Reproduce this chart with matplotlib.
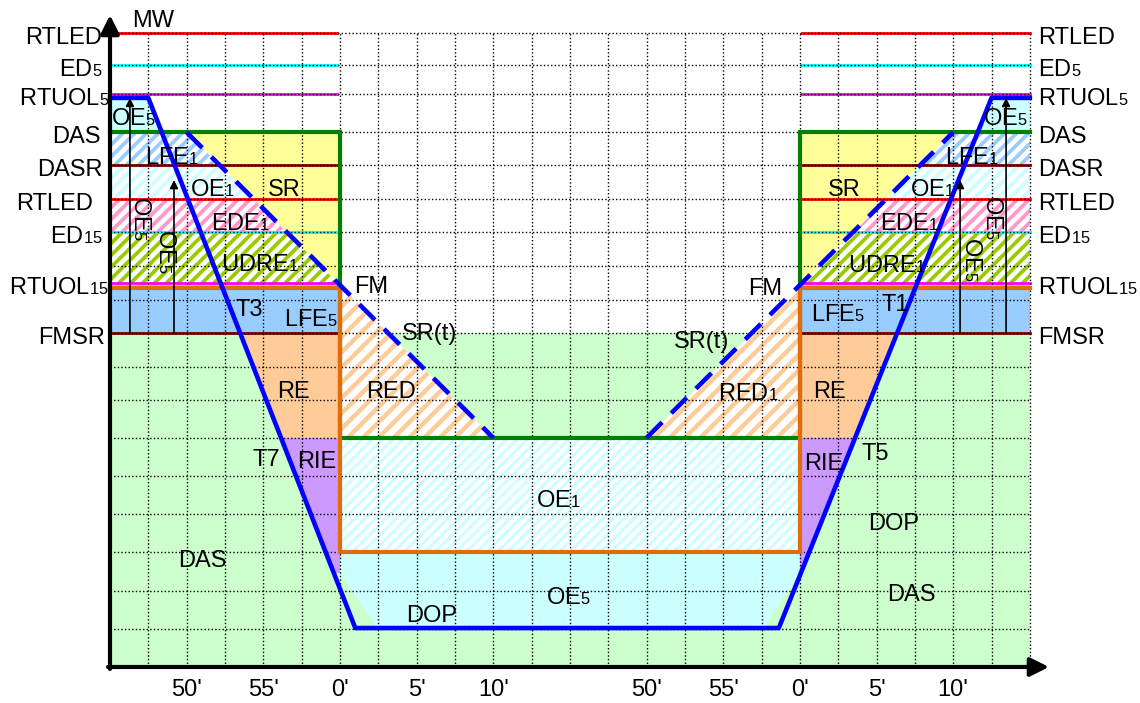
import numpy as np
import matplotlib.pyplot as plt
from matplotlib.collections import LineCollection

plt.rcParams['font.family'] = ['Liberation Sans', 'DejaVu Sans']
plt.rcParams['mathtext.fontset'] = 'custom'
plt.rcParams['mathtext.rm'] = 'Liberation Sans'
plt.rcParams['mathtext.it'] = 'Liberation Sans'
plt.rcParams['mathtext.bf'] = 'Liberation Sans:bold'
try:  # индексы почти на базовой линии, как в оригинале
    import matplotlib._mathtext as _mt
    _mt.FontConstantsBase.sub1 = 0.0
    _mt.FontConstantsBase.subdrop = 0.0
except Exception:
    pass

# уровни мощности (условные единицы, MW)
level_names = ['RTLED', 'ED$_5$', 'RTUOL$_5$', 'DAS', 'DASR',
               'RTLED', 'ED$_{15}$', 'RTUOL$_{15}$', 'FMSR']
level_y = [16.6, 15.75, 15.0, 14.0, 13.15, 12.25, 11.4, 10.05, 8.75]
level_colors = ['#ff0000', '#00ffff', '#ff00ff', None, '#800000',
                '#ff0000', '#00ffff', '#ff00ff', '#800000']
left_label_x = [-0.2, -0.2, -0.02, -0.25, -0.18, -0.44, -0.2, -0.03, -0.13]

# время (ось X): две получасовые развертки
ticks_x = [2, 4, 6, 8, 10, 14, 16, 18, 20, 22]
ticks_lab = ["50'", "55'", "0'", "5'", "10'"] * 2

# график нагрузки (синяя линия)
plan_x = [0, 1, 6.4, 17.45, 23.0, 24]
plan_y = [14.9, 14.9, 1.02, 1.02, 14.9, 14.9]
# SR(t) - пунктир
srl_x, srl_y = [2, 10], [14, 6]
srr_x, srr_y = [14, 22], [6, 14]
# зеленая (DAS) и оранжевая (FM) ломаные
das_x = [0, 6, 6, 18, 18, 24]
das_y = [14, 14, 6, 6, 14, 14]
fm_x = [0, 6, 6, 18, 18, 24]
fm_y = [9.92, 9.92, 3, 3, 9.92, 9.92]
oe5_low = 2.46     # низ RIE / край OE5
oe5_x = [6.97, 17.04]

# полосы штриховки слева/справа от SR(t)
bands = [(13.15, 14.0, '#99ccff'), (12.25, 13.15, '#ccffff'),
         (11.4, 12.25, '#ff99cc'), (10.0, 11.4, '#99cc00')]

# стрелки OE5
arrows_x = [0.52, 1.67, 22.18, 23.38]
arrows_top = [14.9, 12.75, 12.75, 14.9]

grid_y = [1, 2, 3, 4, 5, 6, 7, 7.85, 8.75, 9.6, 10.5, 11.4, 12.25,
          13.15, 14, 15, 15.75, 16.6]

labels = [('OE$_5$', 0.60, 14.18), ('OE$_5$', 23.35, 14.18),
          ('LFE$_1$', 1.62, 13.18), ('LFE$_1$', 22.49, 13.18),
          ('OE$_1$', 2.66, 12.32), ('OE$_1$', 21.45, 12.32),
          ('SR', 4.54, 12.32), ('SR', 19.15, 12.32),
          ('EDE$_1$', 3.42, 11.43), ('EDE$_1$', 20.87, 11.43),
          ('UDRE$_1$', 3.91, 10.36), ('UDRE$_1$', 20.27, 10.33),
          ('T3', 3.63, 9.18), ('T1', 20.48, 9.31),
          ('LFE$_5$', 5.24, 8.92), ('LFE$_5$', 18.99, 9.05),
          ('FM', 6.81, 9.78), ('FM', 17.09, 9.73),
          ('SR(t)', 8.35, 8.55), ('SR(t)', 15.44, 8.34),
          ('RED', 7.33, 7.03), ('RED$_1$', 16.65, 6.98),
          ('RE', 4.80, 7.03), ('RE', 18.76, 7.03),
          ('T7', 4.07, 5.25), ('RIE', 5.40, 5.20), ('RIE', 18.63, 5.17),
          ('T5', 19.96, 5.41), ('OE$_1$', 11.71, 4.20),
          ('DAS', 2.40, 2.63), ('DAS', 20.92, 1.74),
          ('DOP', 8.40, 1.19), ('DOP', 20.45, 3.58), ('OE$_5$', 11.95, 1.66)]
rot_labels = [(0.78, 11.75), (1.43, 10.89), (23.01, 11.78), (22.46, 10.68)]


def xl(y):  # левая ветвь синей линии
    return np.interp(y, [plan_y[2], plan_y[1]], [plan_x[2], plan_x[1]])


def xr(y):  # правая ветвь
    return np.interp(y, [plan_y[3], plan_y[4]], [plan_x[3], plan_x[4]])


def x_srl(y):
    return np.interp(y, srl_y[::-1], srl_x[::-1])


def x_srr(y):
    return np.interp(y, srr_y, srr_x)


fig = plt.figure(figsize=(11.4, 7.03), dpi=100)
ax = fig.add_axes([110 / 1140, 36 / 703, 939 / 1140, 652 / 703])
ax.set_xlim(0, 24.5)
ax.set_ylim(0, 17.07)
for s in ax.spines.values():
    s.set_visible(False)


def fill(xs, ys, color):
    ax.fill(xs, ys, color=color, lw=0, zorder=1)


def stripes(xs, ys, color, step, lw):
    p = ax.fill(xs, ys, facecolor='white', lw=0, zorder=1.2)[0]
    x0, x1 = min(xs) - 1, max(xs) + 1
    cs = np.arange(min(ys) - x1 - step, max(ys) - x0 + step, step)
    segs = [[(x0, x0 + c), (x1, x1 + c)] for c in cs]
    lc = LineCollection(segs, colors=color, linewidths=lw, zorder=1.3)
    ax.add_collection(lc)
    lc.set_clip_path(p)


FMSR, RTUOL = level_y[8], 10.0
mid = das_y[2]
low = fm_y[2]
bot = plan_y[2]
fm_pt = x_srl(6) * 0 + RTUOL  # точка FM на уровне RTUOL15

# фон
fill([0, 24, 24, 0], [0, 0, FMSR, FMSR], '#ccffcc')
# LFE5
fill([0, 6, 6, 0], [FMSR, FMSR, RTUOL, RTUOL], '#99ccff')
fill([18, 24, 24, 18], [FMSR, FMSR, RTUOL, RTUOL], '#99ccff')
# RE
fill([xl(FMSR), 6, 6, xl(mid)], [FMSR, FMSR, mid, mid], '#ffcc99')
fill([18, xr(FMSR), xr(mid), 18], [FMSR, FMSR, mid, mid], '#ffcc99')
# RIE
fill([xl(mid), 6, 6, xl(oe5_low)], [mid, mid, oe5_low, oe5_low], '#cc99ff')
fill([18, xr(mid), xr(oe5_low), 18], [mid, mid, oe5_low, oe5_low], '#cc99ff')
# OE5 сверху
fill([0, plan_x[1], xl(14), 0], [plan_y[1], plan_y[1], 14, 14], '#ccffff')
fill([xr(14), plan_x[4], 24, 24], [14, plan_y[4], plan_y[4], 14], '#ccffff')
# SR (желтый)
fill([srl_x[0], 6, 6], [14, 14, fm_pt], '#ffff99')
fill([18, 18, srr_x[1]], [fm_pt, 14, 14], '#ffff99')
# OE5 внизу
fill([6, 18, 18, oe5_x[1], oe5_x[0], 6], [low, low, oe5_low, bot, bot, oe5_low], '#ccffff')

# штриховка
for ylo, yhi, c in bands:
    stripes([0, min(6, x_srl(ylo)), min(6, x_srl(yhi)), 0], [ylo, ylo, yhi, yhi], c, 0.31, 2.7)
    stripes([max(18, x_srr(ylo)), 24, 24, max(18, x_srr(yhi))], [ylo, ylo, yhi, yhi], c, 0.31, 2.7)
stripes([6, srl_x[1], 6], [mid, mid, fm_pt], '#ffcc99', 0.4, 3.2)
stripes([srr_x[0], 18, 18], [mid, mid, fm_pt], '#ffcc99', 0.4, 3.2)
stripes([6, 18, 18, 6], [low, low, mid, mid], '#ccffff', 0.27, 2.2)

# уровни
for y, c in zip(level_y, level_colors):
    if c is None:
        continue
    ax.plot([0, 5.93], [y, y], color=c, lw=2.0, zorder=2, clip_on=False)
    ax.plot([18.05, 24], [y, y], color=c, lw=2.0, zorder=2)

# сетка
for gx in range(1, 25):
    ax.plot([gx, gx], [0, grid_y[-1]], color='k', lw=1.0, ls=(0, (1, 1.6)), zorder=3)
for gy in grid_y:
    ax.plot([0, 24], [gy, gy], color='k', lw=1.0, ls=(0, (1, 1.6)), zorder=3)

ax.plot(das_x, das_y, color='#008000', lw=3, zorder=4, solid_joinstyle='miter', clip_on=False)
ax.plot(fm_x, fm_y, color='#e36c0a', lw=3, zorder=5, solid_joinstyle='miter', clip_on=False)
ax.plot(plan_x, plan_y, color='#0000ff', lw=3.3, zorder=6, clip_on=False)
ax.plot(srl_x, srl_y, color='#0000ff', lw=3.3, ls=(0, (4.8, 2.8)), zorder=6)
ax.plot(srr_x, srr_y, color='#0000ff', lw=3.3, ls=(0, (4.8, 2.8)), zorder=6)

for x, t in zip(arrows_x, arrows_top):
    ax.annotate('', xy=(x, t), xytext=(x, FMSR),
                arrowprops=dict(arrowstyle='-|>', color='k', lw=1.2,
                                mutation_scale=12, shrinkA=0, shrinkB=0), zorder=6)

# оси со стрелками
ax.annotate('', xy=(0, 17.07), xytext=(0, -0.05), annotation_clip=False,
            arrowprops=dict(arrowstyle='-|>', color='k', lw=3, mutation_scale=28,
                            shrinkA=0, shrinkB=0), zorder=8)
ax.annotate('', xy=(24.5, 0), xytext=(-0.05, 0), annotation_clip=False,
            arrowprops=dict(arrowstyle='-|>', color='k', lw=3, mutation_scale=28,
                            shrinkA=0, shrinkB=0), zorder=8)

fs = 17
for name, y, lx in zip(level_names, level_y, left_label_x):
    ax.text(lx, y - 0.29, name, ha='right', va='baseline', fontsize=fs, clip_on=False)
    ax.text(24.21, y - 0.29, name, ha='left', va='baseline', fontsize=fs, clip_on=False)
ax.text(0.57, 16.76, 'MW', ha='left', va='baseline', fontsize=fs, clip_on=False)

for t, x, y in labels:
    ax.text(x, y, t, ha='center', va='baseline', fontsize=fs, zorder=7)
for x, y in rot_labels:
    ax.text(x, y, 'OE$_5$', ha='center', va='center', rotation=-90, fontsize=fs, zorder=7)

ax.set_xticks(ticks_x, ticks_lab, fontsize=fs)
ax.set_yticks([])
ax.tick_params(length=0, pad=9)

fig.savefig('out.png', dpi=100)
